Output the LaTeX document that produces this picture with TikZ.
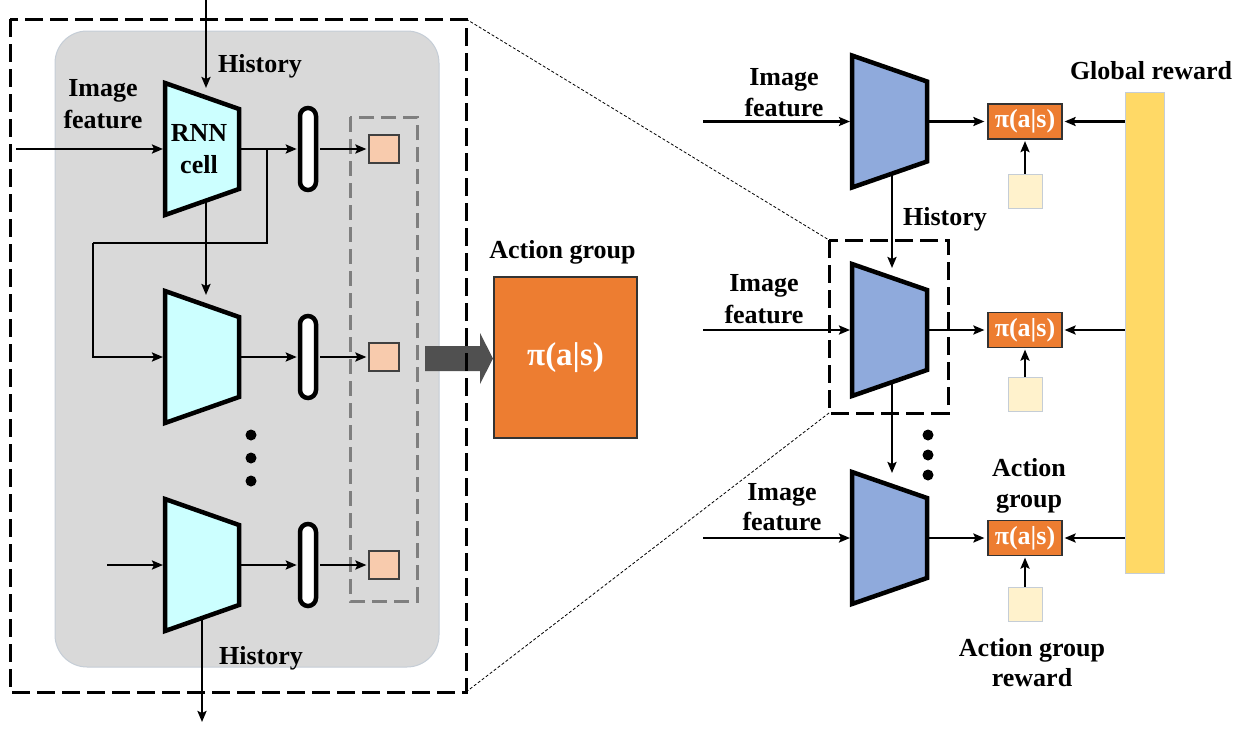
\documentclass[tikz,border=0pt]{standalone}
\usepackage{fontspec}
\setmainfont{Liberation Serif}
\usetikzlibrary{arrows.meta}
\definecolor{bggray}{HTML}{D9D9D9}
\definecolor{bgedge}{HTML}{C5CDD6}
\definecolor{cyanf}{HTML}{CCFFFF}
\definecolor{bluef}{HTML}{8FAADC}
\definecolor{salmon}{HTML}{F8CBAD}
\definecolor{orangef}{HTML}{ED7D31}
\definecolor{yellowf}{HTML}{FFD966}
\definecolor{lightyel}{HTML}{FFF2CC}
\definecolor{dgray}{HTML}{7F7F7F}
\definecolor{arrowgray}{HTML}{505050}
\begin{document}
\begin{tikzpicture}[x=1pt,y=-1pt,
  conn/.style={line width=2.2pt,-{Stealth[length=11pt,width=9pt,inset=2pt]}},
  plainln/.style={line width=2.2pt},
  lbl/.style={font=\fontsize{26}{31}\selectfont\bfseries, inner sep=0pt, anchor=base},
  trapline/.style={line width=4.5pt, line join=miter, draw=black},
  pill/.style={draw, line width=4.5pt, fill=white, rounded corners=8pt, minimum width=16pt, minimum height=82pt, inner sep=0pt},
  smsq/.style={draw=black!75, fill=salmon, line width=1.2pt, minimum width=30pt, minimum height=28pt, inner sep=0pt},
  pbox/.style={draw=black!80, fill=orangef, line width=1.2pt, minimum width=74pt, minimum height=35pt, inner sep=0pt, text=white, font=\fontsize{26}{31}\selectfont\bfseries},
  lsq/.style={draw=bgedge, fill=lightyel, line width=1pt, minimum width=34pt, minimum height=34pt, inner sep=0pt},
  outerdash/.style={draw=black, line width=3pt, dash pattern=on 18pt off 7pt},
  graydash/.style={draw=dgray, line width=3pt, dash pattern=on 15pt off 7pt},
  zoomln/.style={draw=black, line width=0.8pt, dash pattern=on 3pt off 2pt},
  dotc/.style={fill=black}
]
\useasboundingbox (0,0) rectangle (1247,728);

% ---------------- left panel ----------------
\draw[fill=bggray, draw=bgedge, line width=1pt, rounded corners=32pt] (55,31) rectangle (439,667);

% trapezoids (RNN cells)
\foreach \yc/\k in {149/1,357/2,565/3}{
  \draw[trapline, fill=cyanf] (165,\yc-66) -- (239,\yc-40) -- (239,\yc+40) -- (165,\yc+66) -- cycle;
  \coordinate (t\k w) at (163,\yc);
  \coordinate (t\k e) at (241,\yc);
  \node[pill] (p\k) at (308,\yc) {};
  \node[smsq] (sq\k) at (384,\yc) {};
}

\node[lbl] (rnn1) at (199,141.7) {RNN};
\node[lbl] (rnn2) at (199,173.3) {cell};
\node[lbl] (lif1) at (103,96.7) {Image};
\node[lbl] (lif2) at (103,128.3) {feature};
\node[lbl] (lh1) at (260,72.7) {History};
\node[lbl] (lh2) at (261,664) {History};

% gray dashed group box
\draw[graydash] (350,117) rectangle (417,601);

% connectors left
\coordinate (in1) at (16,149);
\coordinate (in3) at (107,565);
\coordinate (htop) at (206,0);
\coordinate (t1n) at (206,88);
\coordinate (t1s) at (206,201);
\coordinate (t2n) at (206,295);
\coordinate (t3s) at (202,620);
\coordinate (hbot) at (202,722);
\coordinate (br) at (267,149);
\coordinate (fb1) at (267,243);
\coordinate (fb2) at (93,243);

\draw[conn] (in1) -- (t1w);
\draw[conn] (htop) -- (t1n);
\draw[conn] (t1s) -- (t2n);
\draw[conn] (in3) -- (t3w);
\draw[conn] (t3s) -- (hbot);
\draw[plainln] (br) -- (fb1) -- (fb2);
\draw[conn] (fb2) |- (t2w);
\foreach \k in {1,2,3}{
  \draw[conn, shorten >=1pt] (t\k e) -- (p\k.west);
  \draw[conn, shorten <=2pt, shorten >=2pt] (p\k.east) -- (sq\k.west);
}

% dots left
\fill[dotc] (251,435) circle (5.5pt);
\fill[dotc] (251,458) circle (5.5pt);
\fill[dotc] (251,481) circle (5.5pt);

% big gray arrow
\fill[arrowgray] (425,346) -- (480,346) -- (480,333) -- (493,358.5) -- (480,384) -- (480,371) -- (425,371) -- cycle;

% outer dashed box
\draw[outerdash] (10,19) rectangle (466,692);
\coordinate (obNE) at (466,19);
\coordinate (obSE) at (466,692);

% ---------------- middle ----------------
\node[draw=black!80, fill=orangef, line width=1.2pt, minimum width=143pt, minimum height=161pt, inner sep=0pt, text=white, font=\fontsize{33}{38}\selectfont\bfseries] (big) at (565.5,357.5) {π(a|s)};
\node[lbl] (agl) at (562.5,258) {Action group};

% ---------------- right panel ----------------
\node[draw=bgedge, fill=yellowf, line width=1pt, minimum width=39pt, minimum height=481pt, inner sep=0pt] (gr) at (1144.5,332.5) {};
\node[lbl] (grl) at (1151,79) {Global reward};

\foreach \yc/\k/\ly in {121.5/1/191, 330/2/394.5, 538/3/604}{
  \draw[trapline, fill=bluef] (852,\yc-66) -- (927,\yc-40) -- (927,\yc+40) -- (852,\yc+66) -- cycle;
  \coordinate (r\k w) at (850,\yc);
  \coordinate (r\k e) at (929,\yc);
  \coordinate (rin\k) at (703,\yc);
  \node[pbox] (pi\k) at (1025,\yc) {π(a|s)};
  \node[lsq] (ls\k) at (1025,\ly) {};
  \draw[conn] (rin\k) -- (r\k w);
  \draw[conn, shorten >=3pt] (r\k e) -- (pi\k.west);
  \draw[conn, shorten >=2pt] (pi\k.east -| gr.west) -- (pi\k.east);
  \draw[conn, shorten >=1.5pt] (ls\k.north) -- (pi\k.south);
}

\node[lbl] (ri1a) at (784,85) {Image};
\node[lbl] (ri1b) at (784,116.7) {feature};
\node[lbl] (ri2a) at (764,291.7) {Image};
\node[lbl] (ri2b) at (764,323.3) {feature};
\node[lbl] (ri3a) at (782,500) {Image};
\node[lbl] (ri3b) at (782,530.7) {feature};
\node[lbl] (rhis) at (945,225) {History};
\node[lbl] (ag3a) at (1029,476.7) {Action};
\node[lbl] (ag3b) at (1029,507) {group};
\node[lbl] (agr1) at (1032,656.7) {Action group};
\node[lbl] (agr2) at (1032,686.7) {reward};

\coordinate (r1s) at (892,176);
\coordinate (r2n) at (892,268);
\coordinate (r2s) at (892,384);
\coordinate (r3n) at (892,473);
\draw[conn] (r1s) -- (r2n);
\draw[conn] (r2s) -- (r3n);

\fill[dotc] (928,435) circle (5.5pt);
\fill[dotc] (928,455) circle (5.5pt);
\fill[dotc] (928,475) circle (5.5pt);

% zoom box and lines
\draw[outerdash] (829,240) rectangle (948,413);
\coordinate (rbNW) at (829,240);
\coordinate (rbSW) at (829,413);
\draw[zoomln] (obNE) -- (rbNW);
\draw[zoomln] (obSE) -- (rbSW);
\end{tikzpicture}
\end{document}
